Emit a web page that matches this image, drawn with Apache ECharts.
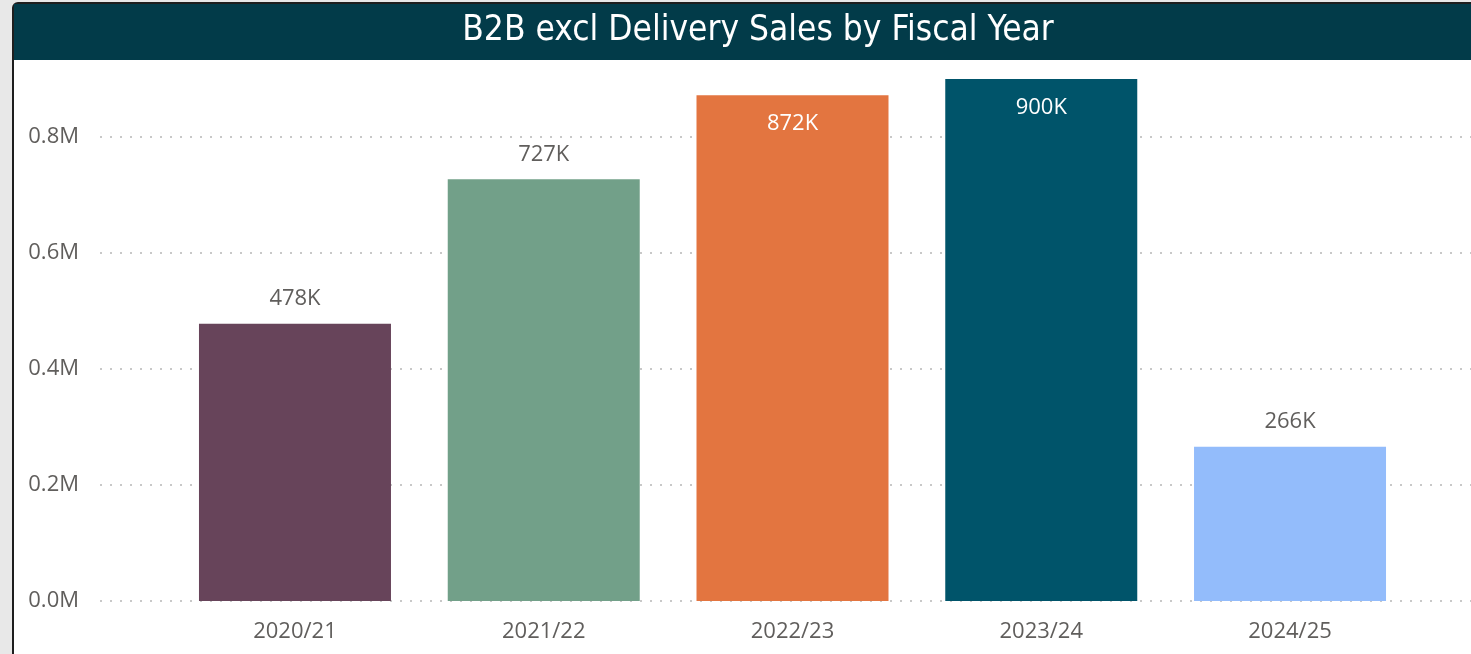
<!DOCTYPE html>
<html>

<head>
    <title>B2B excl Delivery Sales by Fiscal Year</title>
    <script src="https://cdn.jsdelivr.net/npm/echarts@6.0.0/dist/echarts.min.js"></script>
    <style>
        html, body { margin: 0; padding: 0; background: #e8e8e8; overflow: hidden; }
        #panel {
            position: absolute; left: 12px; top: 2px; width: 1500px; height: 700px;
            background: #ffffff; border: 2px solid #1e1e1e; border-radius: 6px;
        }
        #myChart { position: absolute; left: 0; top: 0; width: 1471px; height: 654px; }
    </style>
</head>

<body>
    <div id="panel"></div>
    <div id="myChart"></div>

    <script>
        // chart data
        const fiscalYears = ['2020/21', '2021/22', '2022/23', '2023/24', '2024/25'];
        const salesValues = [478000, 727000, 872000, 900000, 266000];
        const barColors = ['#67445a', '#72a089', '#e37540', '#00546a', '#93bcfb'];
        const yTicks = [0, 200000, 400000, 600000, 800000];

        const textGray = '#605e5c';
        const fontFamily = '"Open Sans", "Noto Sans", sans-serif';

        const myChart = echarts.init(document.getElementById('myChart'));

        const barData = salesValues.map((v, i) => {
            // Power BI puts the label inside when there is no room above the bar
            const inside = v > 850000;
            return {
                value: v,
                itemStyle: { color: barColors[i] },
                label: inside
                    ? { position: 'insideTop', distance: 11, color: '#ffffff' }
                    : { position: 'top', distance: 7, color: textGray }
            };
        });

        const yMax = 900000;

        const option = {
            animation: false,
            graphic: [
                {
                    type: 'rect',
                    shape: { x: 14, y: 4, width: 1460, height: 56 },
                    style: { fill: '#023b49' },
                    z: 10
                },
                {
                    type: 'text',
                    x: 758,
                    y: 31,
                    style: {
                        text: 'B2B excl Delivery Sales by Fiscal Year',
                        fill: '#ffffff',
                        font: '35px "DejaVu Sans Condensed", sans-serif',
                        align: 'center',
                        verticalAlign: 'middle'
                    },
                    z: 11
                }
            ],
            grid: [
                { left: 100, right: 0, top: 79, bottom: 53 },
                { left: 170.6, right: 56.6, top: 79, bottom: 53 }
            ],
            xAxis: [
                { gridIndex: 0, type: 'value', show: false },
                {
                    gridIndex: 1,
                    type: 'category',
                    data: fiscalYears,
                    axisLine: { show: false },
                    axisTick: { show: false },
                    axisLabel: {
                        color: textGray,
                        fontSize: 22,
                        fontFamily: fontFamily,
                        margin: 13
                    }
                }
            ],
            yAxis: [
                {
                    gridIndex: 0,
                    type: 'value',
                    min: 0,
                    max: yMax,
                    interval: 200000,
                    axisLine: { show: false },
                    axisTick: { show: false },
                    axisLabel: {
                        color: textGray,
                        fontSize: 22,
                        fontFamily: fontFamily,
                        margin: 21,
                        showMaxLabel: false,
                        formatter: v => yTicks.includes(v) ? (v / 1e6).toFixed(1) + 'M' : ''
                    },
                    splitLine: {
                        show: true,
                        showMaxLine: false,
                        lineStyle: { color: '#c8c8c8', width: 2, type: [2, 8] }
                    }
                },
                {
                    gridIndex: 1,
                    type: 'value',
                    min: 0,
                    max: yMax,
                    show: false,
                    splitLine: { show: false }
                }
            ],
            series: [{
                type: 'bar',
                xAxisIndex: 1,
                yAxisIndex: 1,
                barWidth: 192,
                data: barData,
                label: {
                    show: true,
                    fontSize: 22,
                    fontFamily: fontFamily,
                    formatter: p => Math.round(p.value / 1000) + 'K'
                }
            }]
        };

        myChart.setOption(option);
    </script>
</body>

</html>
